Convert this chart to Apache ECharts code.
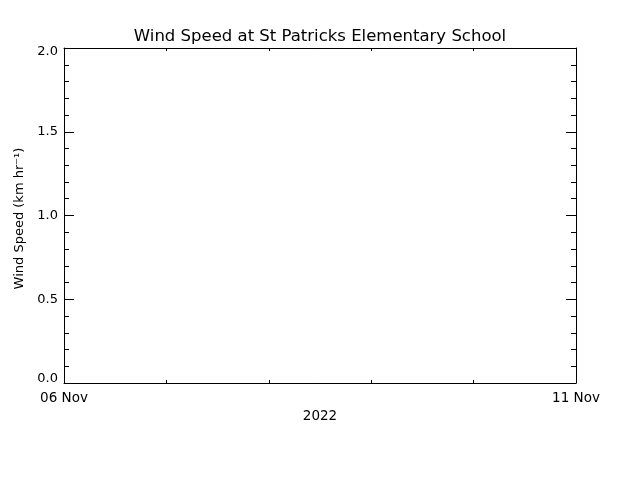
<!DOCTYPE html>
<html><head><meta charset="utf-8">
<script src="https://cdn.jsdelivr.net/npm/echarts@6/dist/echarts.min.js"></script>
<style>html,body{margin:0;padding:0;background:#fff}#c{width:640px;height:480px}</style>
</head><body><div id="c"></div>
<script>
var titleText = 'Wind Speed at St Patricks Elementary School';
var yAxisName = 'Wind Speed (km hr\u207B\u00B9)';
var xAxisName = '2022';
var xTickLabels = ['06 Nov', '', '', '', '', '11 Nov'];
var yMin = 0, yMax = 2.0, yStep = 0.5;
var windSpeed = []; // no data in reference

var chart = echarts.init(document.getElementById('c'));
var font = 'DejaVu Sans';
var axisCommon = {
  axisLine: {show: true, onZero: false, lineStyle: {color: '#000', width: 1}},
  splitLine: {show: false}
};
chart.setOption({
  animation: false,
  title: {text: titleText, left: 'center', top: 23, textStyle: {fontFamily: font, fontSize: 16.5, fontWeight: 'normal', color: '#000'}},
  grid: {left: 64, right: 64, top: 48, bottom: 97},
  xAxis: [
    Object.assign({type: 'value', min: 0, max: 5, interval: 1, position: 'bottom',
      name: xAxisName, nameLocation: 'middle', nameGap: 25,
      nameTextStyle: {fontFamily: font, fontSize: 13.5, color: '#000'},
      axisTick: {show: true, inside: true, length: 3, lineStyle: {color: '#000'}},
      axisLabel: {show: true, fontFamily: font, fontSize: 13.5, color: '#000', margin: 8,
        formatter: function (v) { return xTickLabels[Math.round(v)] || ''; }}
    }, axisCommon),
    Object.assign({type: 'value', min: 0, max: 5, interval: 1, position: 'top',
      axisTick: {show: true, inside: true, length: 3, lineStyle: {color: '#000'}},
      axisLabel: {show: false}}, axisCommon)
  ],
  yAxis: [
    Object.assign({type: 'value', min: yMin, max: yMax, interval: yStep, position: 'left',
      name: yAxisName, nameLocation: 'middle', nameGap: 33, nameRotate: 90,
      nameTextStyle: {fontFamily: font, fontSize: 13, color: '#000', padding: [0, 6, 0, 0]},
      axisTick: {show: true, inside: true, length: 10, lineStyle: {color: '#000'}},
      minorTick: {show: true, splitNumber: 5, length: 5, lineStyle: {color: '#000'}},
      axisLabel: {show: true, fontFamily: font, fontSize: 13, color: '#000', margin: 6,
        formatter: function (v) {
          var s = v.toFixed(1);
          if (v === yMin) return '{lo|' + s + '}';
          if (v === yMax) return '{hi|' + s + '}';
          return s;
        },
        rich: {
          lo: {fontFamily: font, fontSize: 13, color: '#000', padding: [0, 0, 8, 0]},
          hi: {fontFamily: font, fontSize: 13, color: '#000', padding: [8, 0, 0, 0]}
        }
      }
    }, axisCommon),
    Object.assign({type: 'value', min: yMin, max: yMax, interval: yStep, position: 'right',
      axisTick: {show: true, inside: true, length: 10, lineStyle: {color: '#000'}},
      minorTick: {show: true, splitNumber: 5, length: 5, lineStyle: {color: '#000'}},
      axisLabel: {show: false}}, axisCommon)
  ],
  series: [{type: 'line', data: windSpeed, xAxisIndex: 0, yAxisIndex: 0, showSymbol: false, lineStyle: {color: '#000'}}]
});
</script></body></html>
